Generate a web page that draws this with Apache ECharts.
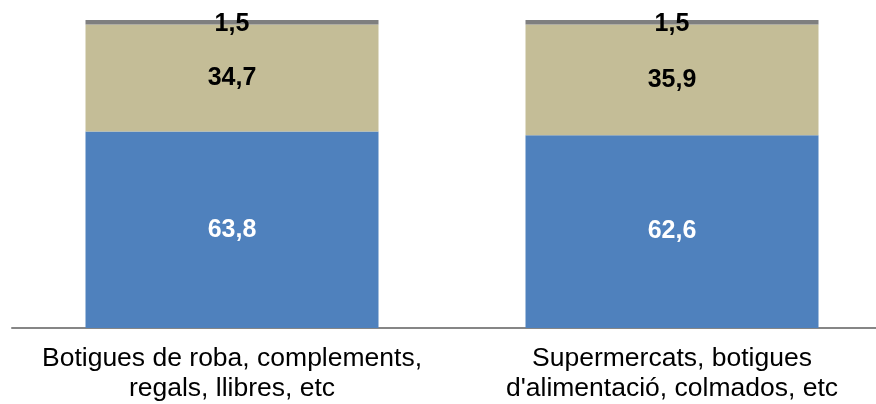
<!DOCTYPE html>
<html>
<head>
<meta charset="utf-8">
<script src="https://cdn.jsdelivr.net/npm/echarts@6/dist/echarts.min.js"></script>
<style>
html,body{margin:0;padding:0;background:#fff;overflow:hidden;}
#chart{width:892px;height:404px;}
</style>
</head>
<body>
<div id="chart"></div>
<script>
const categories = ["Botigues de roba, complements,\nregals, llibres, etc", "Supermercats, botigues\nd'alimentació, colmados, etc"];
const seriesBlue = [63.8, 62.6];
const seriesBeige = [34.7, 35.9];
const seriesGray = [1.5, 1.5];

const fmt = p => p.value.toFixed(1).replace('.', ',');
const chart = echarts.init(document.getElementById('chart'));
const labelBase = {show: true, position: 'inside', fontFamily: 'Liberation Sans, Arial, sans-serif', fontWeight: 'bold', fontSize: 25, formatter: fmt};
chart.setOption({
  animation: false,
  grid: {left: 12, top: 20, right: 0, bottom: 75, containLabel: false},
  xAxis: {
    type: 'category', data: categories,
    axisLine: {show: true, lineStyle: {color: '#868686', width: 2}},
    axisTick: {show: false},
    axisLabel: {color: '#000', fontFamily: 'Liberation Sans, Arial, sans-serif', fontSize: 26.5, lineHeight: 30, margin: 16, interval: 0}
  },
  yAxis: {type: 'value', min: 0, max: 100, show: false, splitLine: {show: false}},
  series: [
    {type: 'bar', stack: 's', data: seriesBlue, barWidth: 293, itemStyle: {color: '#4F81BD'}, label: Object.assign({}, labelBase, {color: '#fff'})},
    {type: 'bar', stack: 's', data: seriesBeige, barWidth: 293, itemStyle: {color: '#C4BD97'}, label: Object.assign({}, labelBase, {color: '#000'})},
    {type: 'bar', stack: 's', data: seriesGray, barWidth: 293, itemStyle: {color: '#7F7F7F'}, label: Object.assign({}, labelBase, {color: '#000', offset: [0, 2]})}
  ]
});
</script>
</body>
</html>
